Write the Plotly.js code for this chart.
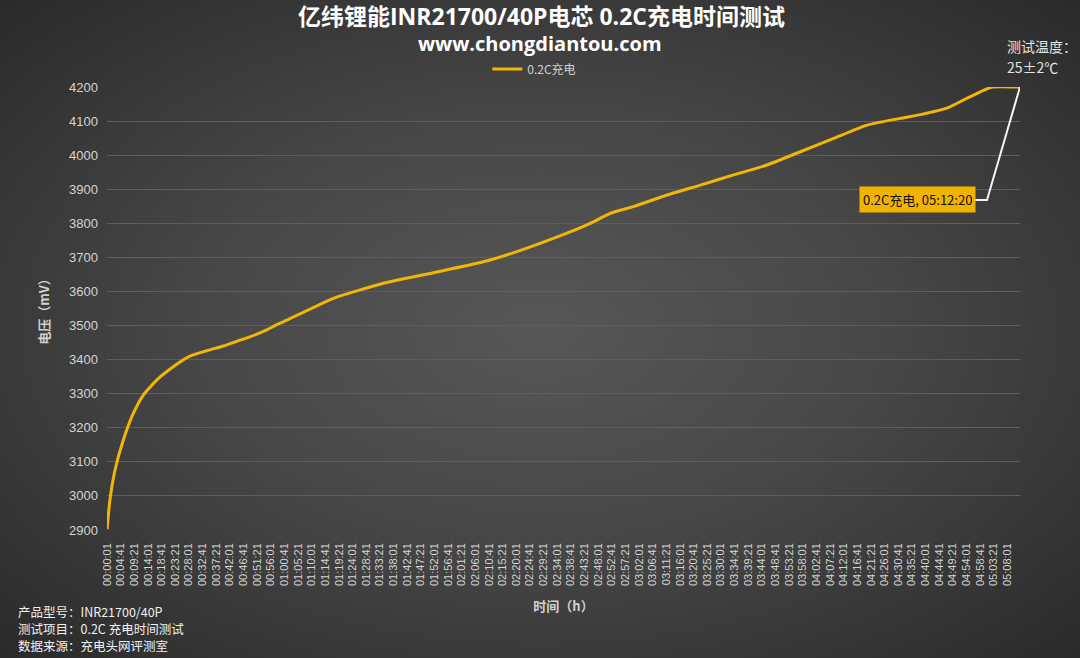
<!DOCTYPE html>
<html>
<head>
<meta charset="utf-8">
<script src="https://cdn.plot.ly/plotly-3.0.1.min.js"></script>
<style>
  html, body { margin: 0; padding: 0; }
  body {
    width: 1080px; height: 658px; overflow: hidden;
    background: radial-gradient(ellipse at 50% 50%, #575757 0%, #474747 45%, #2a2a2a 100%);
  }
  #chart { width: 1080px; height: 658px; }
</style>
</head>
<body>
<div id="chart"></div>
<script>
// elapsed charge time in seconds and cell voltage in mV
const timeSec = [1, 60, 165, 335, 540, 745, 1020, 1360, 1700, 2045, 2390, 2730, 2935, 3280, 3450, 3620,
  4650, 5675, 6700, 7725, 8415, 9440, 9920, 10330, 10805, 11495, 12180, 12860, 13545, 14230,
  14915, 15600, 16285, 16695, 17240, 17650, 17925, 18165, 18740];
const voltageMv = [2902, 2988, 3076, 3164, 3242, 3296, 3340, 3379, 3410, 3426, 3440, 3457, 3467, 3487, 3500, 3511,
  3580, 3624, 3655, 3687, 3717, 3771, 3800, 3829, 3849, 3883, 3912, 3942, 3971, 4010,
  4049, 4088, 4108, 4119, 4138, 4167, 4186, 4200, 4200];

const tickLabels = ['00:00:01','00:04:41','00:09:21','00:14:01','00:18:41','00:23:21','00:28:01','00:32:41',
  '00:37:21','00:42:01','00:46:41','00:51:21','00:56:01','01:00:41','01:05:21','01:10:01','01:14:41',
  '01:19:21','01:24:01','01:28:41','01:33:21','01:38:01','01:42:41','01:47:21','01:52:01','01:56:41',
  '02:01:21','02:06:01','02:10:41','02:15:21','02:20:01','02:24:41','02:29:21','02:34:01','02:38:41',
  '02:43:21','02:48:01','02:52:41','02:57:21','03:02:01','03:06:41','03:11:21','03:16:01','03:20:41',
  '03:25:21','03:30:01','03:34:41','03:39:21','03:44:01','03:48:41','03:53:21','03:58:01','04:02:41',
  '04:07:21','04:12:01','04:16:41','04:21:21','04:26:01','04:30:41','04:35:21','04:40:01','04:44:41',
  '04:49:21','04:54:01','04:58:41','05:03:21','05:08:01'];

const seriesName = '0.2C充电';
const endLabel = '0.2C充电, 05:12:20';
const titleMain = '亿纬锂能INR21700/40P电芯 0.2C充电时间测试';
const titleSite = 'www.chongdiantou.com';
const tempLines = ['测试温度：', '25±2℃'];
const infoLines = ['产品型号：INR21700/40P', '测试项目：0.2C 充电时间测试', '数据来源：充电头网评测室'];

const toSec = s => {
  const p = s.split(':').map(Number);
  return p[0] * 3600 + p[1] * 60 + p[2];
};
const tickVals = tickLabels.map(toSec);

const cjk = '"Noto Sans CJK SC", "Liberation Sans", sans-serif';
const latin = '"Liberation Sans", Arial, sans-serif';
const heading = '"Open Sans", "Noto Sans CJK SC", sans-serif';

// plot box in pixels
const M = { l: 107, r: 60, t: 87, b: 128 };
const plotW = 1080 - M.l - M.r;
const plotH = 658 - M.t - M.b;
const px = x => (x - M.l) / plotW;
const py = y => (658 - M.b - y) / plotH;

function note(text, x, y, size, color, anchor, family) {
  return {
    xref: 'paper', yref: 'paper', x: px(x), y: py(y),
    xanchor: anchor, yanchor: 'middle',
    text: text, showarrow: false,
    font: { family: family || cjk, size: size, color: color },
  };
}

const trace = {
  x: timeSec,
  y: voltageMv,
  name: seriesName,
  mode: 'lines',
  line: { color: '#f2b705', width: 3, shape: 'spline', smoothing: 0.5 },
  hoverinfo: 'none',
};

const lastT = timeSec[timeSec.length - 1];
const lastV = voltageMv[voltageMv.length - 1];

const annotations = [
  note('<b>' + titleMain + '</b>', 541, 16, 23, '#ffffff', 'center', heading),
  note('<b>' + titleSite + '</b>', 540, 44, 20, '#ffffff', 'center', heading),
  note(tempLines[0], 1005, 46, 14, '#e4e4e4', 'left'),
  note(tempLines[1], 1005, 67, 14, '#e4e4e4', 'left'),
  note(infoLines[0], 16, 611, 12.5, '#f0f0f0', 'left'),
  note(infoLines[1], 16, 628, 12.5, '#f0f0f0', 'left'),
  note(infoLines[2], 16, 645, 12.5, '#f0f0f0', 'left'),
  {
    // callout box for the end of charge
    x: lastT, y: lastV, xref: 'x', yref: 'y',
    text: endLabel, showarrow: false,
    xanchor: 'right', yanchor: 'middle',
    xshift: -44, yshift: -112,
    bgcolor: '#f0b400', borderpad: 3,
    font: { family: cjk, size: 13, color: '#111111' },
  },
];

const layout = {
  width: 1080,
  height: 658,
  paper_bgcolor: 'rgba(0,0,0,0)',
  plot_bgcolor: 'rgba(0,0,0,0)',
  margin: M,
  showlegend: true,
  legend: {
    orientation: 'h', x: 0.468, xanchor: 'center', y: py(69), yanchor: 'middle',
    font: { family: cjk, size: 12, color: '#d0d0d0' },
    itemwidth: 30,
    bgcolor: 'rgba(0,0,0,0)',
  },
  xaxis: {
    range: [0, lastT],
    tickvals: tickVals,
    ticktext: tickLabels,
    tickangle: -90,
    tickfont: { family: latin, size: 11, color: '#d4d4d4' },
    ticklabelstandoff: 10,
    showgrid: false,
    zeroline: false,
    showline: false,
    ticks: '',
    automargin: false,
    title: { text: '<b>时间（h）</b>', font: { family: cjk, size: 13, color: '#d0d0d0' }, standoff: 16 },
  },
  yaxis: {
    range: [2900, 4200],
    dtick: 100,
    tickfont: { family: latin, size: 13, color: '#d4d4d4' },
    gridcolor: '#5e5e5e',
    gridwidth: 1,
    zeroline: false,
    showline: false,
    ticks: '',
    ticklabelstandoff: 8,
    automargin: false,
    title: { text: '<b>电压（mV）</b>', font: { family: cjk, size: 13, color: '#d0d0d0' }, standoff: 16 },
  },
  shapes: [
    {
      // leader line from the last point to the callout box
      type: 'path', xref: 'x', yref: 'y',
      xsizemode: 'pixel', ysizemode: 'pixel',
      xanchor: lastT, yanchor: lastV,
      path: 'M 0 0 L -33 -113 L -45 -113',
      line: { color: '#f4f4f4', width: 2 },
    },
  ],
  annotations: annotations,
};

Plotly.newPlot('chart', [trace], layout, { displayModeBar: false, staticPlot: true });
</script>
</body>
</html>
